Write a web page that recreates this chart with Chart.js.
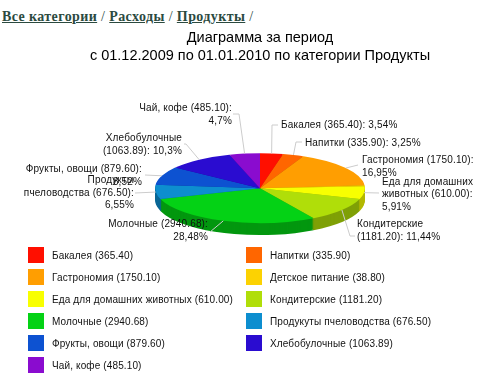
<!DOCTYPE html>
<html>
<head>
<meta charset="utf-8">
<script src="https://cdn.jsdelivr.net/npm/chart.js@4"></script>
<style>
  body { margin: 0; background: #fff; width: 483px; height: 386px; overflow: hidden; position: relative; }
  #crumbs { position: absolute; left: 2px; top: 9px; font: bold 14px "Liberation Serif", serif; letter-spacing: 0.4px; color: #2b4a3f; white-space: nowrap; }
  #crumbs a { color: #2b4a3f; text-decoration: underline; }
  #crumbs span { font-weight: normal; }
  #currentChart { position: absolute; left: 0; top: 0; }
  #legendBox { position: absolute; left: 28px; top: 247px; display: grid; grid-template-columns: 218px 218px; grid-auto-rows: 22px; }
  .item { position: relative; font: 10px "Liberation Sans", Arial, sans-serif; letter-spacing: 0.13px; color: #111; line-height: 18px; white-space: nowrap; padding-left: 24px; }
  .item i { position: absolute; left: 0; top: 0; width: 16px; height: 16px; }
</style>
</head>
<body>
<div id="crumbs"><a>Все категории</a> <span>/</span> <a>Расходы</a> <span>/</span> <a>Продукты</a> <span>/</span></div>
<canvas id="currentChart" width="483" height="386"></canvas>
<div id="legendBox"></div>
<script>
var categories = ["Бакалея", "Напитки", "Гастрономия", "Детское питание", "Еда для домашних животных", "Кондитерские", "Молочные", "Продукуты пчеловодства", "Фрукты, овощи", "Хлебобулочные", "Чай, кофе"];
var amounts = [365.40, 335.90, 1750.10, 38.80, 610.00, 1181.20, 2940.68, 676.50, 879.60, 1063.89, 485.10];
var colors = ['#FF0F00', '#FF6600', '#FF9E01', '#FCD202', '#F8FF01', '#B0DE09', '#04D215', '#0D8ECF', '#0D52D1', '#2A0CD0', '#8A0CCF'];
var titleLines = ["Диаграмма за период", "с 01.12.2009 по 01.01.2010 по категории Продукты"];

// slice captions, the way they wrap in the picture (Детское питание has none)
var captions = [
  ["Бакалея (365.40): 3,54%"],
  ["Напитки (335.90): 3,25%"],
  ["Гастрономия (1750.10):", "16,95%"],
  null,
  ["Еда для домашних", "животных (610.00):", "5,91%"],
  ["Кондитерские", "(1181.20): 11,44%"],
  ["Молочные (2940.68):", "28,48%"],
  ["Продукты", "пчеловодства (676.50):", "6,55%"],
  ["Фрукты, овощи (879.60):", "8,52%"],
  ["Хлебобулочные", "(1063.89): 10,3%"],
  ["Чай, кофе (485.10):", "4,7%"]
];
// where each caption sits and how its leader line runs
var captionPlaces = [
  {x: 281, y: 125.5, align: 'left', leader: [[272, 125], [278, 125]]},
  {x: 305, y: 143.5, align: 'left', leader: [[296, 142], [302, 142]]},
  {x: 362, y: 160.5, align: 'left', leader: [[358, 165]]},
  null,
  {x: 382, y: 182, align: 'left', leader: [[379, 193]]},
  {x: 357, y: 224.5, align: 'left', leader: [[350, 236], [355, 236]]},
  {x: 208, y: 224.5, align: 'right', leader: [[210, 232]]},
  {x: 134, y: 180.5, align: 'right', leader: [[135, 193]]},
  {x: 142, y: 169.5, align: 'right', leader: [[145, 175]]},
  {x: 182, y: 138.5, align: 'right', leader: [[186, 144], [184, 144]]},
  {x: 232, y: 108.5, align: 'right', leader: [[239, 114], [233, 114]]}
];

var squash = 1 / 3;
var depth = 12;

function darker(hex) {
  var n = parseInt(hex.slice(1), 16);
  var r = Math.round((n >> 16) * 0.72), g = Math.round(((n >> 8) & 255) * 0.72), b = Math.round((n & 255) * 0.72);
  return 'rgb(' + r + ',' + g + ',' + b + ')';
}

var pie3d = {
  id: 'pie3d',
  beforeDatasetsDraw: function (chart) {
    var ctx = chart.ctx;
    var arcs = chart.getDatasetMeta(0).data;
    var cx = arcs[0].x, cy = arcs[0].y;
    // side wall first, one squashed copy per pixel of depth
    for (var d = depth; d >= 1; d--) {
      arcs.forEach(function (arc, i) {
        ctx.save();
        ctx.translate(cx, cy + d);
        ctx.scale(1, squash);
        ctx.beginPath();
        ctx.moveTo(0, 0);
        ctx.arc(0, 0, arc.outerRadius, arc.startAngle, arc.endAngle);
        ctx.closePath();
        ctx.fillStyle = darker(colors[i]);
        ctx.fill();
        ctx.restore();
      });
    }
    ctx.save();
    ctx.translate(cx, cy);
    ctx.scale(1, squash);
    ctx.translate(-cx, -cy);
  },
  afterDatasetsDraw: function (chart) {
    var ctx = chart.ctx;
    ctx.restore();
    var arcs = chart.getDatasetMeta(0).data;
    ctx.save();
    ctx.font = '10px "Liberation Sans", Arial, sans-serif';
    ctx.letterSpacing = '0.15px';
    ctx.textBaseline = 'middle';
    arcs.forEach(function (arc, i) {
      var place = captionPlaces[i];
      if (!place) return;
      var mid = (arc.startAngle + arc.endAngle) / 2;
      ctx.strokeStyle = '#cccccc';
      ctx.lineWidth = 1;
      ctx.beginPath();
      ctx.moveTo(arc.x + Math.cos(mid) * arc.outerRadius, arc.y + Math.sin(mid) * arc.outerRadius * squash);
      place.leader.forEach(function (p) { ctx.lineTo(p[0], p[1]); });
      ctx.stroke();
      ctx.fillStyle = '#111';
      ctx.textAlign = place.align;
      captions[i].forEach(function (line, n) {
        ctx.fillText(line, place.x, place.y + n * 12.5);
      });
    });
    ctx.restore();
  }
};

window.onload = function () {
  var box = document.getElementById('legendBox');
  categories.forEach(function (name, i) {
    var item = document.createElement('div');
    item.className = 'item';
    item.innerHTML = '<i style="background:' + colors[i] + '"></i>' + name + ' (' + amounts[i].toFixed(2) + ')';
    box.appendChild(item);
  });

  var ctx = document.getElementById('currentChart').getContext('2d');
  new Chart(ctx, {
    type: 'pie',
    data: {
      labels: categories,
      datasets: [{
        data: amounts,
        backgroundColor: colors,
        borderWidth: 0
      }]
    },
    options: {
      responsive: false,
      animation: false,
      events: [],
      layout: { padding: { left: 37, right: 0, top: 29, bottom: 93 } },
      plugins: {
        legend: { display: false },
        tooltip: { enabled: false },
        title: {
          display: true,
          text: titleLines,
          color: '#000',
          font: { family: '"Liberation Sans", Arial, sans-serif', size: 14.5, weight: 'normal', lineHeight: 1.25 },
          padding: { top: 0, bottom: 18 }
        }
      }
    },
    plugins: [pie3d]
  });
};
</script>
</body>
</html>
